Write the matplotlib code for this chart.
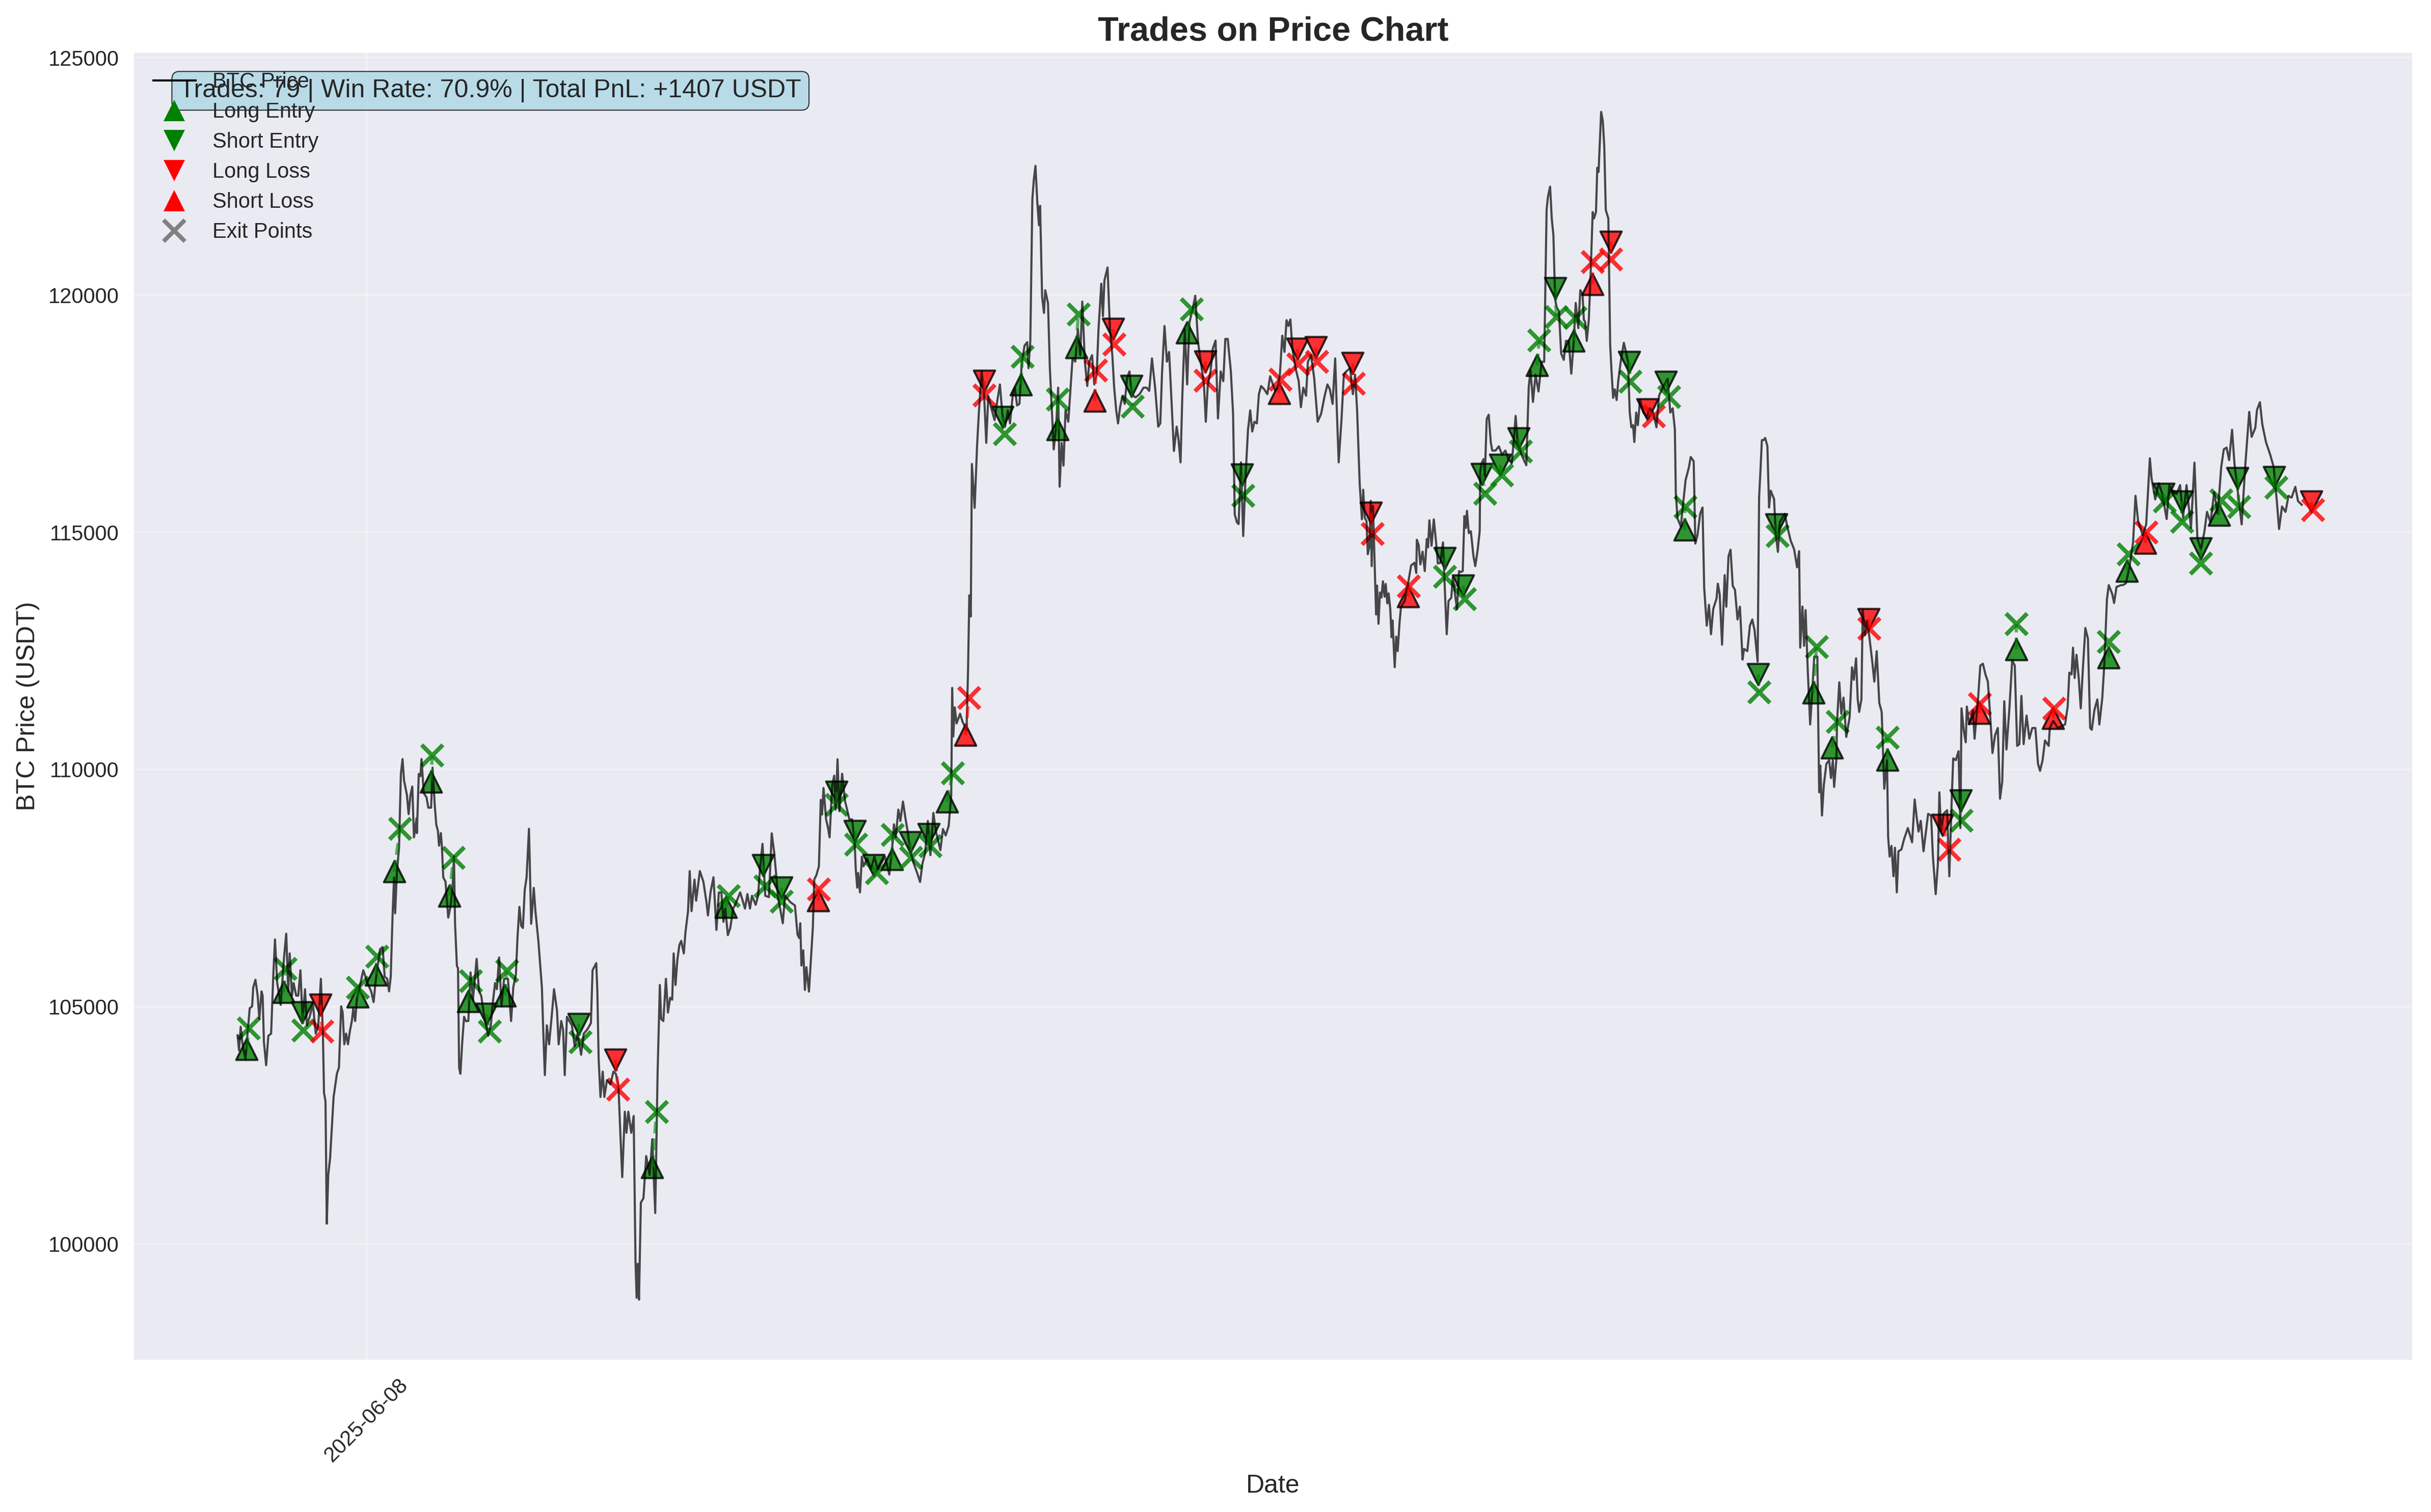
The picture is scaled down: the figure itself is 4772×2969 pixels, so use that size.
import datetime as dt
import matplotlib
matplotlib.use("Agg")
import matplotlib.pyplot as plt
import matplotlib.dates as mdates
from matplotlib.lines import Line2D

plt.rcParams['font.family'] = ['Liberation Sans', 'DejaVu Sans']
plt.rcParams['text.color'] = '.15'
plt.rcParams['axes.labelcolor'] = '.15'
plt.rcParams['xtick.color'] = '.15'
plt.rcParams['ytick.color'] = '.15'

START = dt.datetime(2025, 6, 1)

# (days since START, BTC price)
prices_a = [(0.00,104400),(.08,104080),(.17,104580),(.27,104210),(.43,103900),(.56,104520),(.66,104970),(.79,105010),(.85,105410),(.97,105570),
(1.09,105235),(1.18,104745),(1.30,105325),(1.36,105235),(1.43,104260),(1.55,103770),(1.67,104390),(1.82,104435),(1.94,105680),(2.03,106420),
(2.15,105500),(2.34,105040),(2.52,106040),(2.64,106540),(2.75,105325),(2.83,106125),(2.95,105235),(3.04,105500),(3.18,105235),(3.29,105235),
(3.41,105770),(3.53,104700),(3.66,105370),(3.76,104610),(3.91,104790),(4.09,105060),(4.24,104435),(4.38,104610),(4.52,105590),(4.63,104435),
(4.69,103190),(4.77,103010),(4.84,100430),(4.92,101455),(5.02,101810),(5.12,102480),(5.21,103100),(5.39,103590),(5.50,103720),(5.62,105010),
(5.70,104880),(5.79,104210),(5.89,104435),(5.99,104210),(6.09,104480),(6.20,104700),(6.28,104970),(6.38,104700),(6.47,105150),(6.67,105500),
(6.82,105770),(6.90,105680),(7.05,105500),(7.25,105325),(7.38,105100),(7.48,105500),(7.60,105860),(7.73,106215),(7.87,106260),(7.98,105635),
(8.12,105590),(8.22,105325),(8.31,105635),(8.41,106925),(8.49,107725),(8.55,106970),(8.64,107815),(8.76,108350),(8.86,109905),(8.95,110220),
(9.03,109770),(9.19,109460),(9.28,109060),(9.38,109460),(9.48,109640),(9.57,108570),(9.71,108970),(9.73,108660),(9.83,109905),(9.92,109860),
(9.98,110220),(10.10,109505),(10.25,109415),(10.35,109195),(10.50,109195),(10.58,110040),(10.70,109240),(10.78,108840),(10.87,108705),(10.93,108395),
(11.03,108660),(11.09,108350),(11.16,107725),(11.28,107640),(11.43,106880),(11.55,107105),(11.67,107550),(11.74,108170),(11.80,106750),(11.90,105860),
(11.96,105815),(12.02,103720),(12.09,103590),(12.19,104260),(12.29,104790),(12.38,104700),(12.52,104700),(12.64,105725),(12.77,105150),(12.97,106010),
(13.10,105325),(13.22,105235),(13.35,104880),(13.60,104390),(13.74,104610),(13.84,105060),(13.97,105500),(14.07,105370),(14.19,106040),(14.32,105010),
(14.46,105590),(14.67,105590),(14.84,104700),(14.96,105415),(15.10,105680),(15.19,106480),(15.29,107105),(15.39,106705),(15.48,106660),(15.58,107460),
(15.68,107725),(15.81,108750),(15.93,106750),(16.07,107505),(16.16,107015),(16.32,106390),(16.51,105415),(16.59,104435),(16.67,103560),(16.78,104610),
(16.90,104210),(17.03,104745),(17.17,105370),(17.33,104925),(17.42,104210),(17.56,104700),(17.66,104520),(17.75,103560),(17.87,104790),(18.00,104700),
(18.14,104610),(18.29,104170),(18.45,104435),(18.64,103990),(18.78,104435),(18.97,104520),(19.17,104655),(19.26,105770),(19.46,105920),(19.52,105325),
(19.59,103900),(19.69,103100),(19.81,103635),(19.90,103100),(20.04,103455),(20.23,103365),(20.39,103635),(20.52,103590),(20.66,103365),(20.78,102210),
(20.87,101410),(21.01,102790),(21.10,102345),(21.20,102790),(21.36,102345),(21.49,102700),(21.59,99630),(21.65,98870),(21.71,99585),(21.78,98830),
(21.88,100875),(22.02,100965),(22.17,101855),(22.36,101455),(22.50,102210),(22.66,100655),(22.79,103635),(22.91,105460),(22.98,104745),(23.10,104700),
(23.24,105590),(23.35,104880),(23.47,105190),(23.58,105150),(23.66,106125),(23.76,105460),(23.86,105990),(23.97,106300),(24.07,106390),(24.21,106125),
(24.30,106570),(24.44,107015),(24.53,107860),(24.63,107015),(24.79,107680),(24.88,107235),(25.08,107860),(25.27,107640),(25.43,107235),(25.52,106925),(25.66,107415)]

prices_b = [(25.82,107730),(25.98,106620),(26.11,107410),(26.25,107410),(26.36,106790),(26.46,107070),(26.60,106510),(26.73,106660),(26.89,107070),(27.02,107170),
(27.27,107410),(27.53,107070),(27.66,107375),(27.80,107070),(27.91,107340),(28.11,107150),(28.24,107340),(28.34,107890),(28.48,108435),(28.63,107340),
(28.83,107310),(28.98,108655),(29.12,108230),(29.23,107750),(29.31,107340),(29.58,106760),(29.70,107340),(29.99,107205),(30.24,107135),(30.38,106520),
(30.47,106450),(30.53,106760),(30.59,105870),(30.69,106190),(30.78,105355),(30.86,105835),(31.00,105320),(31.09,105900),(31.21,106660),(31.29,107685),
(31.40,107770),(31.54,107960),(31.64,109360),(31.71,109050),(31.79,109610),(31.93,108950),(32.03,108780),(32.12,108570),(32.26,109670),(32.37,109870),
(32.45,109155),(32.55,110215),(32.65,109120),(32.80,109910),(32.96,109325),(33.05,109190),(33.19,108950),(33.34,108950),(33.48,108470),(33.54,107890),
(33.62,107510),(33.67,107820),(33.77,107410),(33.87,108160),(33.96,107960),(34.16,108130),(34.35,107890),(34.55,108160),(34.74,107890),(34.93,108025),
(35.13,108160),(35.36,107785),(35.52,108370),(35.61,108845),(35.71,108570),(35.85,109155),(35.96,108915),(36.10,109325),(36.23,108985),(36.35,108710),
(36.49,108300),(36.68,108025),(36.87,107820),(37.03,107630),(37.16,108025),(37.30,108230),(37.45,108915),(37.59,108195),(37.75,109085),(37.88,108710),
(38.13,108300),(38.27,108745),(38.42,108610),(38.58,108810),(38.72,109460),(38.77,111720),(38.83,110695),(38.91,111310),(39.01,110970),(39.20,111175),
(39.34,111000),(39.55,110830),(39.63,112060),(39.70,113670),(39.78,113225)]

prices_c = [(39.84,116437),(39.99,115513),(40.12,116813),(40.22,117532),(40.37,118387),(40.50,117908),(40.62,116882),(40.73,117874),(40.90,117600),(41.07,117361),
(41.22,117771),(41.36,118113),(41.49,117498),(41.64,117224),(41.79,117566),(41.91,117292),(42.06,117908),(42.17,118045),(42.29,117669),(42.42,117703),
(42.55,118593),(42.70,118935),(42.84,119003),(42.91,118456),(43.01,119037),(43.12,122014),(43.20,122425),(43.29,122719),(43.39,121946),(43.48,121467),
(43.54,121877),(43.65,119961),(43.75,119619),(43.82,120098),(43.97,119824),(44.07,118456),(44.18,117566),(44.28,116745),(44.41,117224),(44.52,118045),
(44.60,115958),(44.71,116882),(44.81,116403),(44.92,117566),(45.07,117327),(45.17,117908),(45.30,118661),(45.45,118593),(45.59,119277),(45.72,118729),
(45.83,119859),(45.97,118593),(46.10,118080),(46.21,118593),(46.36,118729),(46.48,118113),(46.61,118319),(46.71,119277),(46.86,120235),(46.95,119551),
(47.03,120303),(47.20,120577),(47.33,119277),(47.46,118729),(47.56,118045),(47.67,117566),(47.77,117292),(47.88,117634),(48.01,117874),(48.13,117703),
(48.26,118250),(48.39,118387),(48.51,117908),(48.72,117840),(48.94,117908),(49.15,118045),(49.32,118045),(49.46,117977),(49.61,118661),(49.78,118045),
(49.95,117224),(50.06,117292),(50.16,118387),(50.29,119345),(50.42,118593),(50.54,118798),(50.67,117771),(50.80,116711),(50.95,117224),(51.05,116950),
(51.16,116471),(51.26,117908),(51.39,119277),(51.52,118113),(51.64,119414),(51.81,119687),(51.96,119982),(52.11,119003),(52.28,118524),(52.43,118113),
(52.53,117327),(52.64,118113),(52.79,118387),(52.91,118866),(53.06,119037),(53.19,117395),(53.34,118387),(53.48,118182),(53.59,119072),(53.72,119072),
(53.89,118387),(54.01,117498),(54.10,115376),(54.22,115205),(54.31,115171),(54.44,116471),(54.56,114918),(54.69,116197),(54.82,117156),(54.94,117566),
(55.05,117121),(55.17,117327),(55.30,117292),(55.41,117908),(55.53,118080),(55.70,118011),(55.87,117908),(56.02,118285),(56.17,118113),(56.30,117977),
(56.44,118045),(56.55,118319),(56.68,119140),(56.80,118798),(56.91,119468),(57.01,119345),(57.12,119482),(57.23,118866),(57.40,118456),(57.57,118182),
(57.69,117634),(57.82,118045),(57.97,117874),(58.07,118593),(58.24,118729),(58.41,118250),(58.60,117327),(58.79,117498),(58.98,117874),(59.13,118113),
(59.26,118011),(59.41,117703),(59.55,118661),(59.64,117566),(59.74,116471),(59.89,117361),(60.02,118319),(60.15,118387),(60.36,118456),(60.51,117908),
(60.63,118319),(60.74,117566)]

prices_d = [(60.88,116020),(61.00,115270),(61.07,115895),(61.15,115305),(61.25,115235),(61.32,114535),(61.40,114680),(61.48,115660),(61.53,114285),(61.60,115555),
(61.66,114770),(61.72,113945),(61.77,113265),(61.82,113875),(61.90,113070),(61.98,113730),(62.06,113625),(62.14,113965),(62.23,113640),(62.29,113910),
(62.38,113500),(62.45,113710),(62.54,113375),(62.61,112785),(62.66,113140),(62.78,112155),(62.86,112800),(62.94,112495),(63.04,113085),(63.12,113425),
(63.32,113550),(63.50,113910),(63.67,114300),(63.85,114355),(63.95,114140),(63.98,114840),(64.08,114730),(64.17,114320),(64.29,114590),(64.41,114180),
(64.52,114855),(64.59,114680),(64.66,115250),(64.78,114715),(64.90,115270),(65.02,114805),(65.12,114340),(65.25,114355),(65.40,114785),(65.49,113890),
(65.60,112850),(65.70,113550),(65.85,113620),(65.93,114050),(66.16,113375),(66.27,114180),(66.36,114160),(66.47,114180),(66.56,115340),(66.64,115090),
(66.70,115450),(66.80,114980),(66.91,115020),(67.05,114500),(67.15,114285),(67.28,114625),(67.39,115020)]

prices_e = [(67.42,116275),(67.49,116450),(67.60,116540),(67.67,116185),(67.77,117385),(67.88,117475),(67.99,116900),(68.07,116720),(68.25,116720),(68.43,116810),
(68.60,116630),(68.78,116720),(68.95,116540),(69.13,116450),(69.25,116985),(69.34,117450),(69.45,116900),(69.66,116630),(69.92,116410),(70.05,118055),
(70.15,118410),(70.28,117745),(70.42,118320),(70.58,117965),(70.75,118590),(70.89,118590),(71.02,121790),(71.09,122060),(71.21,122280),(71.30,121610),
(71.39,121255),(71.48,119920),(71.56,119745),(71.69,119655),(71.81,118765),(71.95,118630),(72.07,119030),(72.22,119030),(72.36,118340),(72.48,118945),
(72.60,119830),(72.74,119300),(72.85,120100),(72.97,120010),(73.04,119480),(73.11,119430),(73.20,119030),(73.31,119480),(73.41,120455),(73.52,121745),
(73.59,121610),(73.70,121745),(73.77,122680),(73.84,122590),(73.91,123215),(73.98,123855),(74.07,123660),(74.15,123125),(74.23,121790),(74.37,121610),
(74.47,118945),(74.54,118410),(74.63,117830),(74.72,118010),(74.82,117785),(74.91,118190),(75.04,118590),(75.21,118990),(75.34,118770),(75.44,118590),
(75.53,117520),(75.62,117210),(75.71,117255),(75.78,116900),(75.88,117520),(75.97,117255),(76.09,117785),(76.27,117520),(76.45,117430),(76.62,117610),
(76.80,117520),(76.98,117210),(77.12,117875),(77.33,118055),(77.59,118230),(77.73,117520),(77.86,117610),(77.98,117165),(78.03,115830),(78.12,115295),
(78.30,115120),(78.56,116095),(78.74,116365),(78.84,116585),(79.00,116495),(79.09,114760),(79.21,114940),(79.35,115385),(79.48,115520),(79.57,113830),
(79.71,113030),(79.83,113470),(79.94,112850),(80.06,113380),(80.24,113605),(80.31,113915),(80.41,113695),(80.54,112630),(80.68,114095),(80.77,113430),
(80.89,114495),(81.00,114630),(81.12,113870),(81.24,113785),(81.38,113160),(81.51,113430),(81.65,112315),(81.73,112540),(81.91,112495),(82.05,113030),
(82.18,113160),(82.30,112940),(82.47,112270),(82.55,115740),(82.62,116275),(82.70,116940),(82.79,116940),(82.88,116985),(83.00,116810),(83.09,115520),
(83.18,115875),(83.36,115700),(83.46,114940),(83.57,114585),(83.67,115210),(83.94,115385),(84.08,115120)]

prices_f = [(84.26,114825),(84.45,114640),(84.61,114260),(84.72,114600),(84.78,112567),(84.90,113433),(84.99,112605),(85.07,113358),(85.19,112078),(85.32,110949),
(85.42,111551),(85.54,112379),(85.71,112379),(85.81,109519),(85.87,110084),(85.96,109030),(86.06,109670),(86.20,110121),(86.35,110196),(86.45,109820),
(86.55,110196),(86.62,109632),(86.74,110196),(86.78,111024),(86.90,111837),(87.01,111175),(87.13,111514),(87.28,110686),(87.46,111100),(87.59,112153),
(87.69,111890),(87.81,112342),(87.90,111476),(87.98,111213),(88.10,111476),(88.17,113358),(88.29,112830),(88.41,113131),(88.52,112830),(88.68,112304),
(88.80,111852),(88.93,112492),(89.07,111401),(89.20,111213),(89.34,109594),(89.49,110196),(89.55,108578),(89.63,108164),(89.73,108390),(89.84,107750),
(89.92,108352),(90.02,107411),(90.11,108277),(90.27,108315),(90.42,108540),(90.62,108766),(90.85,108465),(90.99,109368),(91.10,108992),(91.20,108691),
(91.32,108917),(91.47,108277),(91.72,109067),(91.88,109030),(91.98,108164),(92.13,107374),(92.25,108014),(92.33,109519),(92.42,108691),(92.56,109067),
(92.75,109143),(92.87,107750),(92.98,109143),(93.08,110234),(93.22,110196),(93.37,110385),(93.47,108766),(93.53,111288),(93.66,110799),(93.76,110573),
(93.82,111326),(93.95,110949),(94.15,111250),(94.24,110648),(94.44,111551),(94.55,112191),(94.69,112229),(94.83,112003),(94.96,111852),(95.08,111175),
(95.21,110347),(95.35,110723),(95.50,110874),(95.62,109384),(95.74,109745),(95.85,111438),(95.97,110422),(96.13,111288),(96.28,112304),(96.42,112191),
(96.55,110497),(96.67,110535),(96.78,111551),(96.90,110535),(97.06,111137),(97.21,110648),(97.37,110874),(97.54,110874),(97.68,110121),(97.79,109971),
(97.93,110196),(98.06,110611),(98.26,110497),(98.32,110874),(98.51,111024),(98.76,110874),(99.15,110949),(99.29,111326),(99.38,112040),(99.50,112003),
(99.58,112567),(99.67,111928),(99.77,112417),(99.89,111928),(100.00,111288),(100.12,112153),(100.25,112981),(100.39,112756),(100.51,110874),(100.60,110836),
(100.74,111250),(100.90,111476),(101.01,110949),(101.17,111514),(101.28,112229),(101.42,113584),(101.52,113885),(101.71,113697),(101.81,113508),(101.94,113847),
(102.19,113885),(102.29,113885),(102.45,113922),(102.64,114261),(102.84,114788),(102.97,115766),(103.11,115240),(103.36,114938),(103.55,115164),(103.75,116557),
(103.84,116143),(104.04,115691),(104.23,116030),(104.43,115804),(104.66,115277),(104.81,115992),(105.01,115842),(105.20,115804),(105.39,115992),(105.55,115315),
(105.74,115992),(105.98,115089),(106.17,116466),(106.33,114863),(106.52,114638),(106.71,115014),(106.85,115428),(107.04,115202),(107.24,115842),(107.43,115390),
(107.62,116369),(107.76,116745),(107.91,116783),(108.05,116519),(108.21,117159),(108.34,116444),(108.50,115917),(108.73,115164),(108.92,116369),(109.14,117535),
(109.27,117008),(109.47,117197),(109.56,117573),(109.72,117739),(109.85,117272),(110.05,116896),(110.28,116632),(110.47,116369),(110.63,115691),(110.76,115066),
(110.92,115541),(111.11,115428),(111.27,115766),(111.44,115729),(111.64,115955),(111.79,115653),(111.99,115578)]

# Trades: entry day index (12:00 each day), kind, entry price, exit delay in days, exit price
trade_day = [0,2,3,4,6,7,8,10,11,12,13,14,18,20,22,26,28,29,31,32,33,34,35,36,37,38,39,40,41,42,44,45,46,47,48,51,52,54,56,57,58,60,61,63,65,66,67,68,69,
             70,71,72,73,74,75,76,77,78,82,83,85,86,88,89,92,93,94,96,98,101,102,103,104,105,106,107,108,110,112]
trade_kind = ['L','L','S','LL','L','L','L','L','L','L','S','L','S','LL','L','L','S','S','SL','S','S','S','L','S','S','L','SL',
              'LL','S','L','L','L','SL','LL','S','L','LL','S','SL','LL','LL','LL','LL','SL','S','S','S','S','S',
              'L','S','L','SL','LL','S','LL','S','L','S','S','L','L','LL','L','LL','S','SL','L','SL','L','L','SL','S','S','S','L','S','S','LL']
entry_price = [104105,105307,104880,105040,105210,105680,107850,109745,107340,105120,104845,105235,104640,103885,101625,
               107100,107980,107510,107240,109530,108700,107980,108110,108470,108640,109320,110730,
               118182,117430,118110,117170,118900,117770,119280,118080,119210,118600,116210,117930,118860,118890,118560,115410,113650,114450,113870,116220,116420,116970,
               118515,120140,119030,120230,121120,118580,117590,118170,115050,112010,115160,111620,110460,113170,110200,108830,109350,111190,112530,111085,112360,114185,114775,115800,115640,114660,115365,116140,116160,115640]
exit_delay = [.10,.10,.06,.08,0,.06,.31,.06,.21,.14,.16,.10,.08,.14,.23,.14,.12,.02,.04,0,.04,.17,.04,.04,.08,.29,.17,
              0,.11,.08,0,.11,.06,.06,.06,.27,0,.04,.06,.04,.06,.04,.06,.04,0,.06,.19,.08,.11,
              .12,.04,.07,0,0,.05,.32,.16,.04,.04,.04,.16,.29,.02,.02,.37,.02,.02,0,.06,.02,.08,.04,.06,0,.02,.12,.08,.10,.10]
exit_price = [104550,105805,104507,104490,105410,106060,108750,110300,108140,105550,104480,105760,104260,103260,102790,
              107340,107540,107220,107480,109260,108420,107820,108630,108140,108390,109920,111510,
              117885,117070,118700,117805,119590,118410,118960,117650,119700,118200,115770,118220,118540,118600,118130,114970,113860,114070,113590,115820,116200,116710,
              119050,119540,119520,120700,120750,118180,117450,117850,115540,111630,114925,112590,111010,112970,110680,108315,108930,111380,113070,111290,112690,114540,115005,115650,115225,114350,115680,115540,115940,115470]

x_tick_dates = [dt.datetime(2025, 6, 8)]
y_ticks = [100000, 105000, 110000, 115000, 120000, 125000]
x_limit_days = (-5.62, 117.98)
y_limits = (97564, 125097)


def to_num(days):
    return mdates.date2num(START + dt.timedelta(days=days))


fig = plt.figure(figsize=(4772 / 300, 2969 / 300), dpi=300, facecolor='white')
ax = fig.add_axes([263 / 4772, 1 - 2670 / 2969, (4735 - 263) / 4772, (2670 - 104) / 2969])
ax.set_facecolor('#EAEAF2')
for s in ax.spines.values():
    s.set_visible(False)
ax.grid(True, color='white', alpha=0.3, linewidth=1)
ax.set_axisbelow(True)
ax.tick_params(left=False, bottom=False, labelsize=10)

series = prices_a + prices_b + prices_c + prices_d + prices_e + prices_f
ax.plot([to_num(d) for d, _ in series], [p for _, p in series], color='black', alpha=0.7, linewidth=1)

STYLE = {'L': ('green', '^'), 'S': ('green', 'v'), 'LL': ('red', 'v'), 'SL': ('red', '^')}
for day, kind, ep, delay, xp in zip(trade_day, trade_kind, entry_price, exit_delay, exit_price):
    color, marker = STYLE[kind]
    t0 = to_num(day + 0.5)
    t1 = to_num(day + 0.5 + delay)
    ax.scatter([t0], [ep], s=100, c=color, marker=marker, edgecolors='black', linewidths=1, alpha=0.8)
    ax.scatter([t1], [xp], s=100, c=color, marker='x', linewidths=2, alpha=0.8)
    ax.plot([t0, t1], [ep, xp], color=color, linestyle='--', linewidth=1.5, alpha=0.6)

ax.set_xlim(to_num(x_limit_days[0]), to_num(x_limit_days[1]))
ax.set_ylim(*y_limits)
ax.set_xticks([mdates.date2num(d) for d in x_tick_dates])
ax.xaxis.set_major_formatter(mdates.DateFormatter('%Y-%m-%d'))
ax.set_yticks(y_ticks)
plt.setp(ax.get_xticklabels(), rotation=45)

ax.set_title('Trades on Price Chart', fontsize=16, fontweight='bold')
ax.set_xlabel('Date', fontsize=12)
ax.set_ylabel('BTC Price (USDT)', fontsize=12)

handles = [
    Line2D([0], [0], color='black', linewidth=1, label='BTC Price'),
    Line2D([0], [0], marker='^', color='green', linestyle='None', markersize=10, markeredgewidth=0, label='Long Entry'),
    Line2D([0], [0], marker='v', color='green', linestyle='None', markersize=10, markeredgewidth=0, label='Short Entry'),
    Line2D([0], [0], marker='v', color='red', linestyle='None', markersize=10, markeredgewidth=0, label='Long Loss'),
    Line2D([0], [0], marker='^', color='red', linestyle='None', markersize=10, markeredgewidth=0, label='Short Loss'),
    Line2D([0], [0], marker='x', color='gray', linestyle='None', markersize=10, markeredgewidth=2, label='Exit Points'),
]
ax.legend(handles=handles, loc='upper left', frameon=False, fontsize=10, labelspacing=0.455)

ax.text(0.02, 0.98, 'Trades: 79 | Win Rate: 70.9% | Total PnL: +1407 USDT', transform=ax.transAxes,
        fontsize=12, va='top', bbox=dict(boxstyle='round', facecolor='lightblue', alpha=0.8, linewidth=0.5))

fig.savefig('out.png', dpi=300)
